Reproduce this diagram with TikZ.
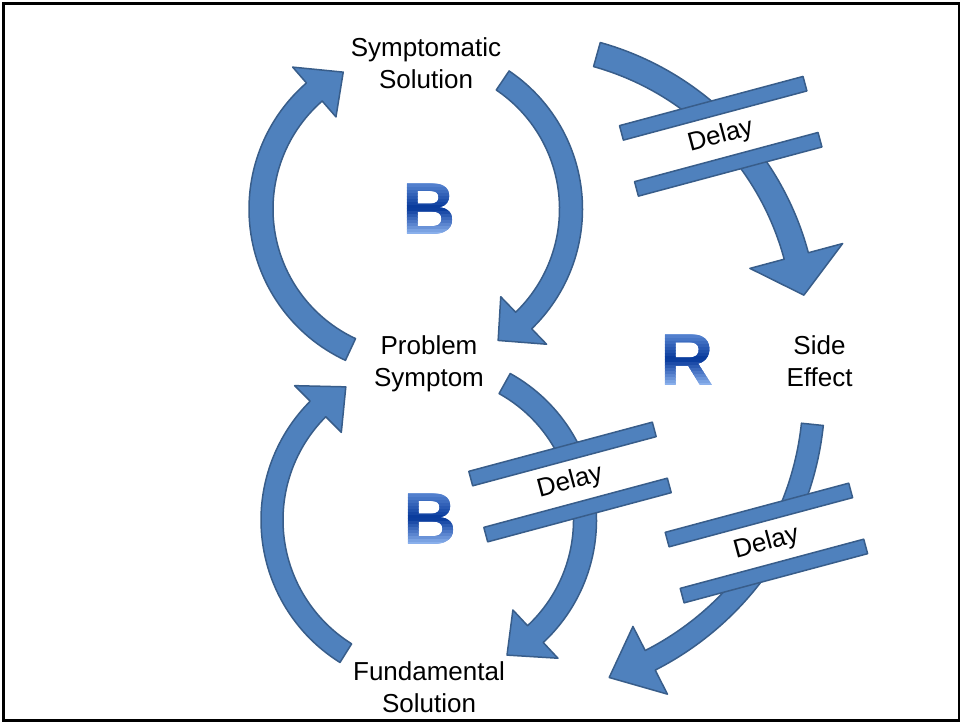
\documentclass[tikz,border=0pt]{standalone}
\usepackage{fontspec}
\setmainfont{Liberation Sans}
\definecolor{arrowfill}{HTML}{4F81BD}
\definecolor{arrowline}{HTML}{385D8A}
\definecolor{lettertop}{HTML}{5C89D4}
\definecolor{letterbot}{HTML}{8AB0EC}
\definecolor{letterdark}{HTML}{06389A}
\tikzset{
  blockarrow/.style={fill=arrowfill, draw=arrowline, line width=0.75pt, line join=round},
  lbl/.style={font=\fontsize{13}{16}\selectfont, align=center, inner sep=0pt},
  bigletter/.style={font=\fontsize{37}{37}\bfseries\selectfont, inner sep=0pt}
}
% curved block arrow: centre, radius, start, end, tip angle, shaft width, head width
\newcommand{\blockarc}[7]{
  \filldraw[blockarrow, shift={#1}]
    (#3:{#2+#6/2}) arc[start angle=#3, end angle=#4, radius={#2+#6/2}]
    -- (#4:{#2+#7/2}) -- (#5:#2) -- (#4:{#2-#7/2}) -- (#4:{#2-#6/2})
    arc[start angle=#4, end angle=#3, radius={#2-#6/2}] -- cycle;
}
% delay mark: centre, name
\newcommand{\delaymark}[2]{
  \begin{scope}[shift={#1}, rotate=15]
    \fill[white] (-95,-22) rectangle (95,22);
    \filldraw[blockarrow] (-95,21.5) rectangle (95,36.5);
    \filldraw[blockarrow] (-95,-36.5) rectangle (95,-21.5);
    \node[lbl, rotate=15] (#2) at (0,0) {Delay};
  \end{scope}
}
% loop letter with a banded blue gradient: centre, letter, name
\newcommand{\loopletter}[3]{
  \foreach \k in {0,...,17} {
    \pgfmathtruncatemacro{\mix}{100*abs(\k-8.5)/8.5}
    \ifnum\k<9 \def\edgecol{lettertop}\else\def\edgecol{letterbot}\fi
    \begin{scope}[shift={#1}]
      \clip (-45,{28-3*\k}) rectangle (45,{22-3*\k});
      \node[bigletter, text=\edgecol!\mix!letterdark] (#3\k) at (0,0) {#2};
    \end{scope}
  }
}

\begin{document}
\begin{tikzpicture}[x=0.5pt, y=0.5pt]
  \useasboundingbox (0,0) rectangle (961,723);
  \draw[line width=1.35pt] (3.3,2.5) rectangle (959,719.7);

  % upper loop
  \blockarc{(416,514)}{155}{245}{131}{118}{24}{66}
  \blockarc{(416,514)}{155}{56}{-46}{-58}{23}{66}
  % lower loop
  \blockarc{(429,203)}{157}{238}{135}{122}{22}{66}
  \blockarc{(429,203)}{156}{61}{-47}{-60}{23}{66}
  % side effect loop
  \blockarc{(520,393)}{286}{74.4}{15}{7}{25}{96}
  \blockarc{(514,330)}{300}{-6}{-63}{-71.5}{22}{76}

  \delaymark{(720.7,586.7)}{delayA}
  \delaymark{(570,241)}{delayB}
  \delaymark{(766.4,180)}{delayC}

  \node[lbl] (ss) at (426,659.5) {Symptomatic\\Solution};
  \node[lbl] (ps) at (429,359) {Problem\\Symptom};
  \node[lbl] (se) at (819.5,361.5) {Side\\Effect};
  \node[lbl] (fs) at (429,35.5) {Fundamental\\Solution};

  \loopletter{(429.5,513.5)}{B}{bUp}
  \loopletter{(430,204)}{B}{bLow}
  \loopletter{(687,362.5)}{R}{rSide}
\end{tikzpicture}
\end{document}
